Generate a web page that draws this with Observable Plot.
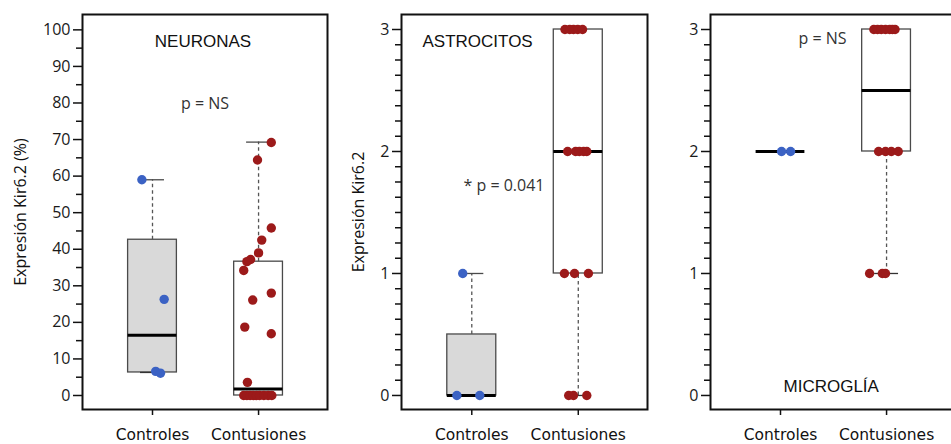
<!DOCTYPE html>
<html><head><meta charset="utf-8">
<script src="https://cdn.jsdelivr.net/npm/d3@7"></script>
<script src="https://cdn.jsdelivr.net/npm/@observablehq/plot@0.6"></script>
<style>
html,body{margin:0;padding:0;background:#fff;overflow:hidden;}
#wrap{position:relative;width:951px;height:444px;overflow:hidden;background:#fff;}
#wrap > svg, #wrap > figure, #wrap > div{position:absolute;top:0;margin:0;}
</style></head><body><div id="wrap"></div>
<script>
// ---------- data ----------
const categories = ["Controles", "Contusiones"];

// NEURONAS (%)
const neuronasCtrlValues = [59, 26.3, 6.6, 6.1];
const neuronasCtrlJitter = [-0.10, 0.11, 0.03, 0.075];
const neuronasContValues = [69.2, 64.4, 45.8, 42.5, 39, 37.2, 36.6, 34.2, 28, 26.1, 18.7, 16.9, 3.6, 0, 0, 0, 0, 0, 0, 0, 0, 0];
const neuronasContJitter = [0.12, -0.01, 0.12, 0.03, 0.0, -0.075, -0.11, -0.14, 0.12, -0.055, -0.13, 0.12, -0.105, -0.14, -0.11, -0.08, -0.05, -0.02, 0.01, 0.05, 0.09, 0.125];
const neuronasQ1 = [6.3, 0];
const neuronasMedian = [16.5, 1.8];
const neuronasQ3 = [42.6, 36.6];
const neuronasLo = [6.3, 0];
const neuronasHi = [59, 69.3];
const neuronasTicks = [0, 10, 20, 30, 40, 50, 60, 70, 80, 90, 100];

// ASTROCITOS
const astroCtrlValues = [0, 0, 1];
const astroCtrlJitter = [-0.14, 0.075, -0.085];
const astroContValues = [3, 3, 3, 3, 3, 2, 2, 2, 2, 2, 1, 1, 1, 0, 0, 0];
const astroContJitter = [-0.125, -0.08, -0.045, -0.005, 0.04, -0.10, -0.025, 0.01, 0.05, 0.08, -0.13, -0.035, 0.095, -0.09, -0.045, 0.08];
const astroQ1 = [0, 1];
const astroMedian = [0, 2];
const astroQ3 = [0.5, 3];
const astroLo = [0, 0];
const astroHi = [1, 3];

// MICROGLÍA
const microCtrlValues = [2, 2];
const microCtrlJitter = [0.01, 0.095];
const microContValues = [3, 3, 3, 3, 3, 3, 3, 2, 2, 2, 2, 1, 1, 1];
const microContJitter = [-0.12, -0.085, -0.05, -0.01, 0.03, 0.055, 0.08, -0.075, -0.01, 0.045, 0.11, -0.16, -0.04, -0.01];
const microQ1 = [2, 2];
const microMedian = [2, 2.5];
const microQ3 = [2, 3];
const microLo = [2, 1];
const microHi = [2, 3];

const countTicks = [0, 1, 2, 3];

// ---------- helpers ----------
const BLUE = "#3b62c4", RED = "#9c1a1a";
const BOX_HALF = 0.23, CAP_HALF = 0.113;

function statsTable(q1, med, q3, lo, hi) {
  return categories.map((c, i) => ({pos: i + 1, q1: q1[i], med: med[i], q3: q3[i], lo: lo[i], hi: hi[i], fill: i === 0 ? "#d9d9d9" : "#ffffff"}));
}
function pointsTable(values, jitter, pos, color) {
  return values.map((v, i) => ({x: pos + jitter[i], y: v, color}));
}

function panel({stats, points, yDomain, majorTicks, minorTicks, ylabel, texts, width, marginLeft, marginRight}) {
  const marks = [
    Plot.rect(stats, {x1: d => d.pos - BOX_HALF, x2: d => d.pos + BOX_HALF, y1: "q1", y2: "q3",
      fill: d => d.fill, stroke: "#4a4a4a", strokeWidth: 1.3}),
    Plot.ruleX(stats.filter(d => d.hi > d.q3), {x: "pos", y1: "q3", y2: "hi", stroke: "#555", strokeWidth: 1.3, strokeDasharray: "3.5,3"}),
    Plot.ruleX(stats.filter(d => d.lo < d.q1), {x: "pos", y1: "lo", y2: "q1", stroke: "#555", strokeWidth: 1.3, strokeDasharray: "3.5,3"}),
    Plot.ruleY(stats.filter(d => d.hi > d.q3), {y: "hi", x1: d => d.pos - CAP_HALF, x2: d => d.pos + CAP_HALF, stroke: "#4a4a4a", strokeWidth: 1.3}),
    Plot.ruleY(stats.filter(d => d.lo < d.q1 || d.lo === d.q1 && d.q1 !== d.q3), {y: "lo", x1: d => d.pos - CAP_HALF, x2: d => d.pos + CAP_HALF, stroke: "#333", strokeWidth: 1.3}),
    Plot.ruleY(stats, {y: "med", x1: d => d.pos - BOX_HALF, x2: d => d.pos + BOX_HALF, stroke: "#000", strokeWidth: 3}),
    Plot.dot(points, {x: "x", y: "y", r: 4.7, fill: d => d.color, stroke: null}),
    Plot.axisY({ticks: majorTicks, tickFormat: d => String(d), tickSize: 9, tickPadding: 3, fontSize: 16, fontFamily: "Open Sans", fill: "#1a1a1a", stroke: "#111", strokeWidth: 1.5, label: null}),
    Plot.axisY({ticks: minorTicks, tickSize: 6, tickFormat: () => "", stroke: "#111", strokeWidth: 1.5, label: null}),
    Plot.axisX({ticks: [1, 2], tickFormat: i => categories[i - 1], tickSize: 6, tickPadding: 13, fontSize: 15.5, fontFamily: "DejaVu Sans", fill: "#111", stroke: "#111", strokeWidth: 1.5, label: null}),
    ...texts.map(t => Plot.text([t.text], {text: d => d, frameAnchor: t.anchor, dx: t.dx, dy: t.dy, textAnchor: t.textAnchor || "middle", lineAnchor: "middle",
      fontFamily: t.font, fontSize: t.size, fill: t.fill || "#111"})),
    Plot.frame({stroke: "#111", strokeWidth: 2})
  ];
  if (ylabel) marks.push(Plot.text([ylabel.text], {text: d => d, frameAnchor: "left", rotate: -90, dx: ylabel.dx, textAnchor: "middle", lineAnchor: "middle", fontFamily: "Open Sans", fontSize: 16, fill: "#111"}));
  return Plot.plot({
    width, height: 444,
    marginLeft, marginRight, marginTop: 14, marginBottom: 35,
    x: {type: "linear", domain: [0.34, 2.65]},
    y: {domain: yDomain},
    style: {fontFamily: "Open Sans", fontSize: "15px", color: "#111", background: "transparent", overflow: "visible"},
    marks
  });
}

const wrap = document.getElementById("wrap");

const p1 = panel({
  stats: statsTable(neuronasQ1, neuronasMedian, neuronasQ3, neuronasLo, neuronasHi),
  points: [...pointsTable(neuronasCtrlValues, neuronasCtrlJitter, 1, BLUE), ...pointsTable(neuronasContValues, neuronasContJitter, 2, RED)],
  yDomain: [-3.83, 104.2],
  majorTicks: neuronasTicks,
  minorTicks: d3.range(5, 100, 10),
  ylabel: {text: "Expresión Kir6.2 (%)", dx: -62},
  texts: [
    {text: "NEURONAS", anchor: "top", dx: -2, dy: 27, font: "Liberation Sans", size: 17},
    {text: "p = NS", anchor: "top", dx: 0, dy: 89, font: "Open Sans", size: 16, fill: "#333"}
  ],
  width: 335, marginLeft: 82, marginRight: 8
});
p1.style.left = "0px";
wrap.appendChild(p1);

const p2 = panel({
  stats: statsTable(astroQ1, astroMedian, astroQ3, astroLo, astroHi),
  points: [...pointsTable(astroCtrlValues, astroCtrlJitter, 1, BLUE), ...pointsTable(astroContValues, astroContJitter, 2, RED)],
  yDomain: [-0.115, 3.123],
  majorTicks: countTicks,
  minorTicks: d3.range(0.125, 3, 0.125).filter(v => Math.abs(v - Math.round(v)) > 1e-6),
  ylabel: {text: "Expresión Kir6.2", dx: -43},
  texts: [
    {text: "ASTROCITOS", anchor: "top-left", dx: 21, dy: 27, textAnchor: "start", font: "Liberation Sans", size: 17},
    {text: "* p = 0.041", anchor: "top-left", dx: 62, dy: 171, textAnchor: "start", font: "Open Sans", size: 16, fill: "#333"}
  ],
  width: 315, marginLeft: 66, marginRight: 3
});
p2.style.left = "335px";
wrap.appendChild(p2);

const p3 = panel({
  stats: statsTable(microQ1, microMedian, microQ3, microLo, microHi),
  points: [...pointsTable(microCtrlValues, microCtrlJitter, 1, BLUE), ...pointsTable(microContValues, microContJitter, 2, RED)],
  yDomain: [-0.115, 3.123],
  majorTicks: countTicks,
  minorTicks: d3.range(0.125, 3, 0.125).filter(v => Math.abs(v - Math.round(v)) > 1e-6),
  ylabel: null,
  texts: [
    {text: "p = NS", anchor: "top-left", dx: 88, dy: 24, textAnchor: "start", font: "Open Sans", size: 16, fill: "#333"},
    {text: "MICROGLÍA", anchor: "bottom-left", dx: 73, dy: -23, textAnchor: "start", font: "Liberation Sans", size: 17}
  ],
  width: 310, marginLeft: 60, marginRight: 5
});
p3.style.left = "650px";
wrap.appendChild(p3);
</script></body></html>
